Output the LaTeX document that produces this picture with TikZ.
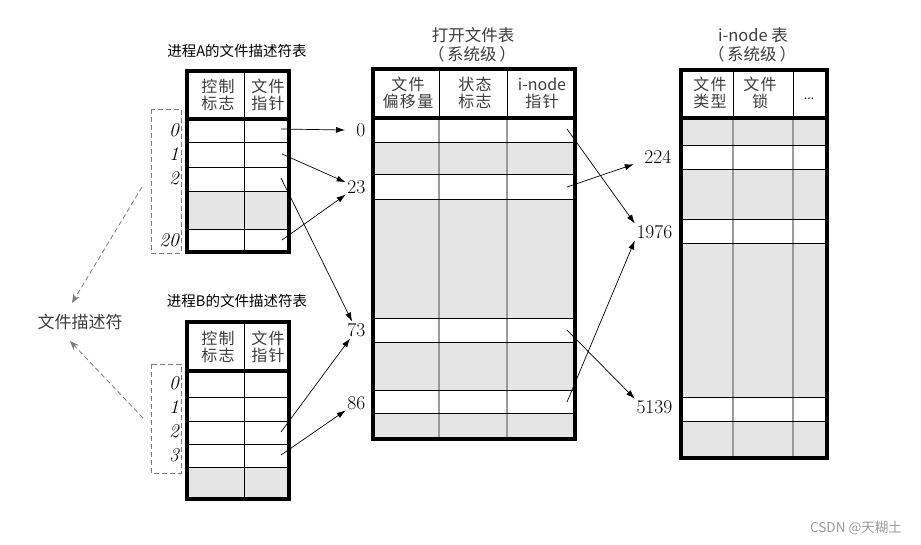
\documentclass[tikz,border=0pt]{standalone}
\usepackage{fontspec}
\newfontfamily\cjk{Noto Sans CJK SC}
\newfontfamily\cjksp[LetterSpace=9]{Noto Sans CJK SC}
\usetikzlibrary{arrows.meta,calc}
\definecolor{cellgray}{HTML}{E5E5E5}
\definecolor{divgray}{HTML}{9A9A9A}
\definecolor{hdtext}{HTML}{3C3C3C}
\definecolor{dashgray}{HTML}{7A7A7A}
\begin{document}
\begin{tikzpicture}[x=1pt,y=-1pt,
  hdr/.style={font=\cjksp\fontsize{16}{17}\selectfont, text=hdtext, align=center, inner sep=0pt},
  ttl/.style={font=\cjk\fontsize{16.5}{18}\selectfont, text=hdtext, inner sep=0pt},
  ptitle/.style={font=\cjk\fontsize{14.5}{16}\selectfont, text=black, inner sep=0pt},
  num/.style={font=\fontsize{19.5}{20}\selectfont, anchor=east, inner sep=1.5pt},
  fdnum/.style={font=\fontsize{19.5}{20}\selectfont\itshape, anchor=east, inner sep=0pt},
  ptr/.style={-{Latex[length=9pt,width=6pt]}, line width=0.7pt},
  dptr/.style={dashgray, dash pattern=on 5pt off 3pt, line width=0.8pt, -{Stealth[length=9pt,width=7pt]}},
  thin/.style={line width=0.9pt},
  border/.style={line width=3.8pt},
  sep/.style={line width=3.2pt},
  grid/.style={divgray, line width=1.3pt},
  dbox/.style={dashgray, dash pattern=on 5pt off 3pt, line width=0.8pt}]
\useasboundingbox (0,0) rectangle (921,544);

% ---------- process A fd table ----------
\node[ptitle] (titA) at (237,51) {进程A的文件描述符表};
\fill[cellgray] (187,191) rectangle (289,229);
\foreach \yy in {142,167,191,229} \draw[thin] (187,\yy) -- (289,\yy);
\draw[thin] (244,71) -- (244,252);
\draw[sep] (187,119) -- (289,119);
\draw[border] (187,71) rectangle (289,252);
\node[hdr] (hA1) at (218,95) {控制\\标志};
\node[hdr] (hA2) at (268,95) {文件\\指针};
\draw[dbox] (151,109) rectangle (181,253);
\node[fdnum] (fA0) at (179,130) {0};
\node[fdnum] (fA1) at (179,154) {1};
\node[fdnum] (fA2) at (179,178) {2};
\node[fdnum] (fA20) at (179,240) {20};

% ---------- process B fd table ----------
\node[ptitle] (titB) at (237,301) {进程B的文件描述符表};
\fill[cellgray] (187,467) rectangle (289,499);
\foreach \yy in {397,421,444,467} \draw[thin] (187,\yy) -- (289,\yy);
\draw[thin] (244,322) -- (244,499);
\draw[sep] (187,371) -- (289,371);
\draw[border] (187,322) rectangle (289,499);
\node[hdr] (hB1) at (218,347) {控制\\标志};
\node[hdr] (hB2) at (268,347) {文件\\指针};
\draw[dbox] (151,364) rectangle (181,473);
\node[fdnum] (fB0) at (179,383) {0};
\node[fdnum] (fB1) at (179,407) {1};
\node[fdnum] (fB2) at (179,431) {2};
\node[fdnum] (fB3) at (179,455) {3};

% ---------- open file table ----------
\node[ttl] (titO1) at (473,35) {打开文件表};
\node[ttl] (titO2) at (472,54) {（\,系统级\,）};
\fill[cellgray] (373,142) rectangle (575,174);
\fill[cellgray] (373,199) rectangle (575,318);
\fill[cellgray] (373,342) rectangle (575,390);
\fill[cellgray] (373,413) rectangle (575,439);
\foreach \xx in {439,507} {
  \draw[grid] (\xx,118) -- (\xx,439);
  \draw[thin] (\xx,69) -- (\xx,118);
}
\foreach \yy in {142,174,199,318,342,390,413} \draw[thin] (373,\yy) -- (575,\yy);
\draw[sep] (373,118) -- (575,118);
\draw[border] (373,69) rectangle (575,439);
\node[hdr] (hO1) at (408,93) {文件\\偏移量};
\node[hdr] (hO2) at (475,93) {状态\\标志};
\node[hdr] (hO3) at (542,93) {{\cjk i-node}\\指针};
\node[num] (o0) at (367,130) {0};
\node[num] (o23) at (367,187) {23};
\node[num] (o73) at (367,330) {73};
\node[num] (o86) at (367,403) {86};

% ---------- i-node table ----------
\node[ttl] (titI1) at (753,35) {i-node 表};
\node[ttl] (titI2) at (752,54) {（\,系统级\,）};
\fill[cellgray] (681,118) rectangle (827,145);
\fill[cellgray] (681,169) rectangle (827,219);
\fill[cellgray] (681,243) rectangle (827,397);
\fill[cellgray] (681,421) rectangle (827,458);
\foreach \xx in {733,793} {
  \draw[grid] (\xx,118) -- (\xx,458);
  \draw[thin] (\xx,70) -- (\xx,118);
}
\foreach \yy in {145,169,219,243,397,421} \draw[thin] (681,\yy) -- (827,\yy);
\draw[sep] (681,118) -- (827,118);
\draw[border] (681,70) rectangle (827,458);
\node[hdr] (hI1) at (710,93) {文件\\类型};
\node[hdr] (hI2) at (760,93) {文件\\锁};
\node[font=\fontsize{11}{12}\selectfont\bfseries, inner sep=0pt, anchor=base] (hI3) at (809,99) {...};
\node[num] (i224) at (673,157) {224};
\node[num] (i1976) at (674,232) {1976};
\node[num] (i5139) at (674,407) {5139};

% ---------- pointer start points ----------
\coordinate (pA0) at (281,129);
\coordinate (pA1) at (282,154);
\coordinate (pA2) at (281,178);
\coordinate (pA20) at (282,240);
\coordinate (pB2) at (281,432);
\coordinate (pB3) at (281,455);
\coordinate (q0) at (567,129);
\coordinate (q23) at (567,187);
\coordinate (q73) at (567,330);
\coordinate (q86) at (567,402);

\draw[ptr] (pA0) -- (o0.west -| 345,0);
\draw[ptr] (pA1) -- (o23);
\draw[ptr] (pA20) -- (o23);
\draw[ptr] (pA2) -- (o73);
\draw[ptr] (pB2) -- (o73);
\draw[ptr] (pB3) -- (o86);
\draw[ptr] (q0) -- (i1976.north west);
\draw[ptr] (q23) -- ($(i224.south west)+(-9,-1)$);
\draw[ptr] (q73) -- (i5139.north west);
\draw[ptr] (q86) -- (i1976.south west);

% ---------- file descriptor label ----------
\node[font=\cjk\fontsize{17}{18}\selectfont, text=hdtext, inner sep=0pt] (fdl) at (80,322) {文件描述符};
\coordinate (dA) at (142,187);
\coordinate (dB) at (143,418);
\draw[dptr] (dA) -- ($(fdl.north)+(-8,-11)$);
\draw[dptr] (dB) -- ($(fdl.south)+(-10,11)$);

% ---------- watermark ----------
\node[font=\cjk\fontsize{13.5}{14}\selectfont, text=black!40, inner sep=0pt] (wm) at (856,528) {CSDN @天糊土};
\end{tikzpicture}
\end{document}
